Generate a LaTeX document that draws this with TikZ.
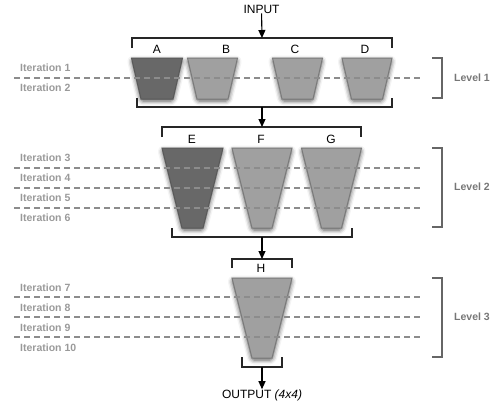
\documentclass[tikz,border=0pt]{standalone}
\usepackage{fontspec}
\setmainfont{Liberation Sans}
\usetikzlibrary{arrows.meta,shadows.blur}

\definecolor{funlight}{HTML}{A0A0A0}
\definecolor{fundark}{HTML}{686868}
\definecolor{funline}{HTML}{7A7A7A}
\definecolor{dashgray}{HTML}{8C8C8C}
\definecolor{itergray}{HTML}{9A9A9A}
\definecolor{lvlgray}{HTML}{777777}

\begin{document}
\begin{tikzpicture}[x=1pt, y=-1pt,
    funbody/.style={draw=funline, fill=funlight, line width=1pt,
        blur shadow={shadow xshift=0pt, shadow yshift=-2pt, shadow blur radius=4.5pt,
            shadow blur extra rounding=2pt, shadow opacity=70}},
    darkf/.style={fill=fundark, draw=black!65},
    pics/funnel/.style n args={4}{code={
        \path[funbody,#4] (-#1/2,0) -- (#1/2,0) -- (#2/2,#3) -- (-#2/2,#3) -- cycle;
    }},
    lettr/.style={font=\fontsize{12}{14}\selectfont, inner sep=0pt},
    iter/.style={anchor=west, inner sep=0pt, text=itergray, font=\fontsize{10.5}{12}\selectfont\bfseries},
    lvl/.style={anchor=west, inner sep=0pt, text=lvlgray, font=\fontsize{10.5}{12}\selectfont\bfseries},
    sep/.style={dashgray, line width=1.2pt, dash pattern=on 6pt off 4pt},
    grp/.style={black!85, line width=1.3pt},
    lvlbrk/.style={black!60, line width=1.2pt},
    flow/.style={-{Triangle[length=8pt,width=7pt]}, line width=1.1pt}
]
\useasboundingbox (0,0) rectangle (493,407);

% level 1
\pic (fA) at (157,58) {funnel={51}{32}{41}{darkf}};
\pic (fB) at (212.5,58) {funnel={50}{31}{41}{}};
\pic (fC) at (297.5,58) {funnel={50}{31}{41}{}};
\pic (fD) at (367,58) {funnel={50}{31}{41}{}};
\node[lettr] (lA) at (157,49) {A};
\node[lettr] (lB) at (226,49) {B};
\node[lettr] (lC) at (295,49) {C};
\node[lettr] (lD) at (365,49) {D};

% level 2
\pic (fE) at (192.5,148) {funnel={61}{21}{80}{darkf}};
\pic (fF) at (262,148) {funnel={60}{20}{80}{}};
\pic (fG) at (331.5,148) {funnel={60}{20}{80}{}};
\node[lettr] (lE) at (192,139) {E};
\node[lettr] (lF) at (261,139) {F};
\node[lettr] (lG) at (331,139) {G};

% level 3
\pic (fH) at (262,278) {funnel={60}{20}{80}{}};
\node[lettr] (lH) at (261,268) {H};

% iteration separators
\draw[sep] (14,78) -- (421,78);
\draw[sep] (14,168) -- (421,168);
\draw[sep] (14,188) -- (421,188);
\draw[sep] (14,208) -- (421,208);
\draw[sep] (14,297) -- (421,297);
\draw[sep] (14,317) -- (421,317);
\draw[sep] (14,337) -- (421,337);

\node[iter] (it1) at (20,68) {Iteration 1};
\node[iter] (it2) at (20,88) {Iteration 2};
\node[iter] (it3) at (20,158) {Iteration 3};
\node[iter] (it4) at (20,178) {Iteration 4};
\node[iter] (it5) at (20,198) {Iteration 5};
\node[iter] (it6) at (20,218) {Iteration 6};
\node[iter] (it7) at (20,288) {Iteration 7};
\node[iter] (it8) at (20,308) {Iteration 8};
\node[iter] (it9) at (20,328) {Iteration 9};
\node[iter] (it10) at (20,348) {Iteration 10};

% level brackets
\draw[lvlbrk] (432,58) -- (442,58) -- (442,98) -- (432,98);
\draw[lvlbrk] (432,148) -- (442,148) -- (442,227) -- (432,227);
\draw[lvlbrk] (432,278) -- (442,278) -- (442,357) -- (432,357);
\node[lvl] (lv1) at (454,78) {Level 1};
\node[lvl] (lv2) at (454,187) {Level 2};
\node[lvl] (lv3) at (454,317) {Level 3};

% group brackets
\draw[grp] (132,48) |- (392,38) -- (392,48);
\draw[grp] (137,98) |- (392,107) -- (392,98);
\draw[grp] (162,137) |- (361,127) -- (361,137);
\draw[grp] (172,228) |- (352,237) -- (352,228);
\draw[grp] (232,268) |- (292,259) -- (292,268);
\draw[grp] (242,357) |- (282,367) -- (282,357);

\coordinate (t1) at (262,38);
\coordinate (b1) at (262,107);
\coordinate (t2) at (262,127);
\coordinate (b2) at (262,237);
\coordinate (t3) at (262,259);
\coordinate (b3) at (262,367);

\node[lettr] (in) at (261.5,9) {INPUT};
\node[lettr] (out) at (262,395) {OUTPUT \textit{(4x4)}};

\draw[flow] (in) -- (t1);
\draw[flow] (b1) -- (t2);
\draw[flow] (b2) -- (t3);
\draw[flow] (b3) -- (out);
\end{tikzpicture}
\end{document}
